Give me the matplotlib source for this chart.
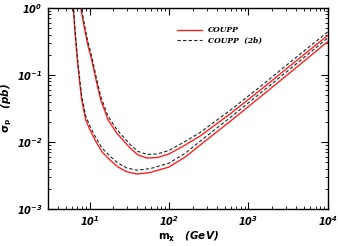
import numpy as np
import matplotlib.pyplot as plt
from matplotlib.ticker import LogLocator, NullFormatter

# values (m in GeV, sigma in pb)
m_low = [6.25, 6.56, 7.02, 7.48, 7.97, 8.96, 10.15, 11.73, 14.38, 18.14, 22.88, 29.45,
         39.38, 57.9, 99.7, 160, 247, 591, 1413, 3377, 10000]
s_low_red = [1.0, 0.424, 0.1675, 0.0813, 0.0424, 0.0213, 0.0151, 0.0107, 0.0071, 0.00539,
             0.00423, 0.0036, 0.00333, 0.00351, 0.00423, 0.00597, 0.00902, 0.0204, 0.047,
             0.1093, 0.315]
s_low_dash = [1.14, 0.483, 0.191, 0.0927, 0.0483, 0.0243, 0.0172, 0.0122, 0.0081, 0.00615,
              0.00483, 0.00411, 0.00381, 0.00401, 0.00483, 0.0068, 0.0103, 0.0232, 0.0535,
              0.124, 0.357]

m_up = [7.74, 8.52, 9.44, 10.66, 12.08, 13.84, 17.11, 22.03, 32.4, 40.9, 53.1, 71.0,
        99.7, 160, 247, 591, 1413, 3377, 10000]
s_up_red = [1.0, 0.539, 0.29, 0.1675, 0.0842, 0.0424, 0.0213, 0.0136, 0.00813, 0.0064,
            0.00577, 0.00587, 0.00662, 0.00902, 0.0123, 0.0264, 0.0595, 0.138, 0.389]
s_up_dash = [1.13, 0.609, 0.328, 0.189, 0.0951, 0.0479, 0.0241, 0.0154, 0.00919, 0.00723,
             0.00652, 0.00663, 0.00748, 0.0102, 0.0139, 0.0298, 0.0672, 0.156, 0.44]

red = '#ff2222'
dash = (0, (3, 2))

fig = plt.figure(figsize=(3.38, 2.46), dpi=100)
ax = fig.add_axes([0.142, 0.150, 0.828, 0.818])

ax.plot(m_low, s_low_red, color=red, lw=1.0, label='COUPP')
ax.plot(m_low, s_low_dash, color='#222222', lw=0.8, ls=dash, label='COUPP  (2b)')
ax.plot(m_up, s_up_red, color=red, lw=1.0)
ax.plot(m_up, s_up_dash, color='#222222', lw=0.8, ls=dash)

ax.set_xscale('log')
ax.set_yscale('log')
ax.set_xlim(3, 1e4)
ax.set_ylim(1e-3, 1)

ax.xaxis.set_minor_locator(LogLocator(base=10, subs=np.arange(2, 10)))
ax.yaxis.set_minor_locator(LogLocator(base=10, subs=np.arange(2, 10)))
ax.xaxis.set_minor_formatter(NullFormatter())
ax.yaxis.set_minor_formatter(NullFormatter())
ax.tick_params(which='both', direction='in', top=True, right=True, labelsize=7, pad=4)
ax.tick_params(which='major', length=5, width=0.8)
ax.tick_params(which='minor', length=2.5, width=0.6)
for lbl in ax.get_xticklabels() + ax.get_yticklabels():
    lbl.set_style('italic')
    lbl.set_weight('bold')
for sp in ax.spines.values():
    sp.set_linewidth(1.0)

font = dict(family='DejaVu Sans', style='italic', weight='bold')
ax.set_xlabel(r'$\mathbf{m_{\chi}}$   (GeV)', fontsize=7.5, labelpad=1, **font)
ax.set_ylabel(r'$\mathbf{\sigma_{p}}$   (pb)', fontsize=7.5, labelpad=2, **font)

ax.legend(loc='upper left', bbox_to_anchor=(0.524, 0.893), bbox_transform=fig.transFigure,
          frameon=False, handlelength=3.2, handletextpad=0.8, labelspacing=0.3,
          borderaxespad=0, borderpad=0,
          prop=dict(family='DejaVu Serif', style='italic', weight='bold', size=5.5))

fig.savefig('out.png', dpi=100)
